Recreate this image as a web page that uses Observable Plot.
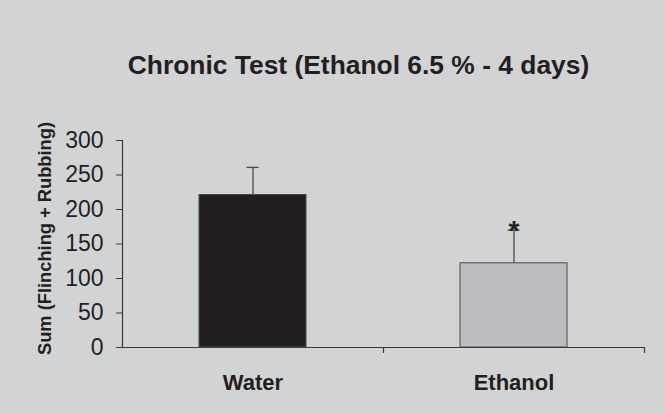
<!DOCTYPE html>
<html>
<head>
<meta charset="utf-8">
<script src="https://cdn.jsdelivr.net/npm/d3@7"></script>
<script src="https://cdn.jsdelivr.net/npm/@observablehq/plot@0.6"></script>
<style>
  html, body { margin: 0; padding: 0; background: #d2d3d5; }
  #chart svg { display: block; }
</style>
</head>
<body>
<div id="chart"></div>
<script>
const title = "Chronic Test (Ethanol 6.5 % - 4 days)";
const yLabel = "Sum (Flinching + Rubbing)";
const categories = ["Water", "Ethanol"];
const means = [221, 122];
const errors = [40, 48];
const significance = ["", "*"];
const fills = ["#231f20", "#bcbdc0"];
const yTicks = [0, 50, 100, 150, 200, 250, 300];

const data = categories.map((c, i) => ({
  cat: c, mean: means[i], top: means[i] + errors[i], sig: significance[i], fill: fills[i]
}));

const font = "Liberation Sans, Arial, Helvetica, sans-serif";
const ink = "#231f20";

const chart = Plot.plot({
  width: 665,
  height: 414,
  marginLeft: 122,
  marginRight: 21,
  marginTop: 140,
  marginBottom: 67,
  style: { background: "#d2d3d5", fontFamily: font, color: ink },
  x: { domain: categories, paddingInner: 0.59, paddingOuter: 0.295, axis: null },
  y: { domain: [0, 300], axis: null },
  marks: [
    // bars
    Plot.barY(data, { x: "cat", y: "mean", fill: "fill", stroke: "#4a4a4a", strokeWidth: 1 }),
    // error bars
    Plot.ruleX(data, { x: "cat", y1: "mean", y2: "top", stroke: "#4a4a4a", strokeWidth: 1.3 }),
    Plot.tickY(data, { x: "cat", y: "top", stroke: "#4a4a4a", strokeWidth: 1.3, insetLeft: 47.5, insetRight: 47.5 }),
    // significance
    Plot.text(data, { x: "cat", y: "top", text: "sig", fontSize: 28, fontWeight: "bold", fill: ink, lineAnchor: "bottom", dy: 10 }),
    // axis lines
    Plot.frame({ anchor: "left", stroke: "#3a3a3a", strokeWidth: 1.2 }),
    Plot.frame({ anchor: "bottom", stroke: "#3a3a3a", strokeWidth: 1.2 }),
    // x ticks at band boundaries
    Plot.ruleX(categories, { x: d => d, dx: 130.5, y1: 0, y2: 0, insetBottom: -6, stroke: "#3a3a3a", strokeWidth: 1.2 }),
    // y axis
    Plot.axisY(yTicks, { tickSize: 6, tickPadding: 13, fontSize: 23, stroke: "#3a3a3a", fill: ink, label: null }),
    // x category labels
    Plot.text(categories, { x: d => d, frameAnchor: "bottom", lineAnchor: "bottom", dy: 42, fontSize: 22, fontWeight: "bold", fill: ink }),
    // y label
    Plot.text([yLabel], { frameAnchor: "left", textAnchor: "middle", lineAnchor: "middle", rotate: -90, dx: -77, dy: -5.5, fontSize: 18.3, fontWeight: "bold", fill: ink }),
    // title
    Plot.text([title], { frameAnchor: "top", lineAnchor: "bottom", dx: -25, dy: -67, fontSize: 26.4, fontWeight: "bold", fill: ink })
  ]
});
document.getElementById("chart").appendChild(chart);
</script>
</body>
</html>
